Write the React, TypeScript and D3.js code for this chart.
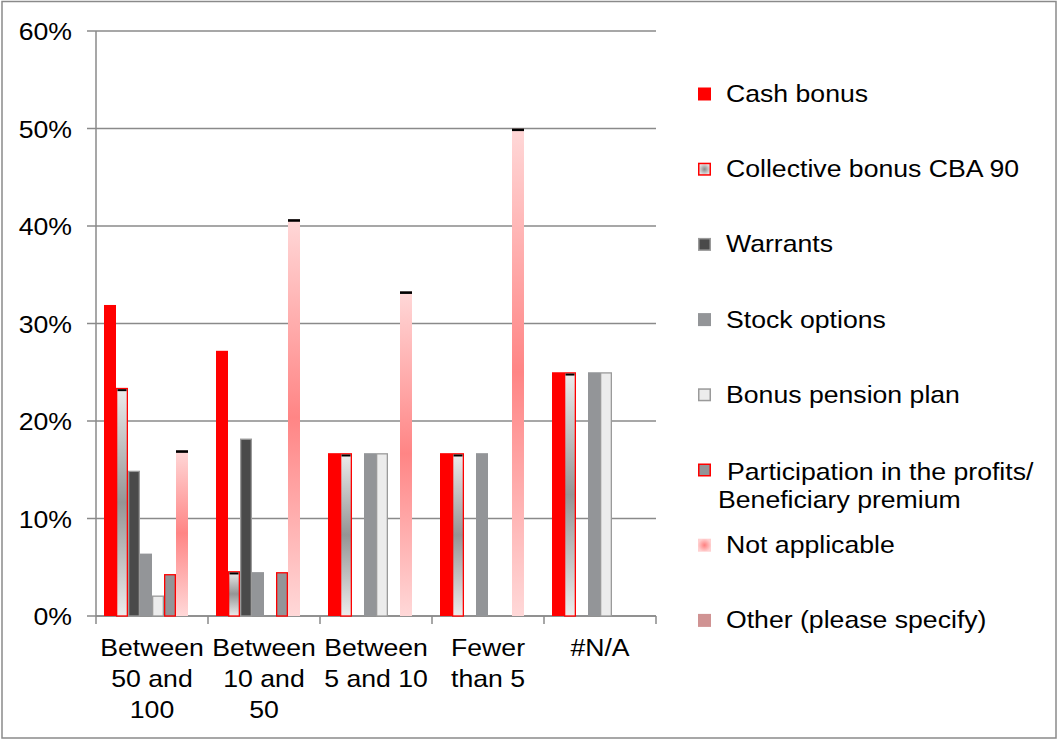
import React from "react";
import * as d3 from "d3";

const categoryLabels: string[][] = [
  ["Between", "50 and", "100"],
  ["Between", "10 and", "50"],
  ["Between", "5 and 10"],
  ["Fewer", "than 5"],
  ["#N/A"],
];
const categories = categoryLabels.map((l) => l.join(" "));

const seriesNames = [
  "Cash bonus",
  "Collective bonus CBA 90",
  "Warrants",
  "Stock options",
  "Bonus pension plan",
  "Participation in the profits/ Beneficiary premium",
  "Not applicable",
  "Other (please specify)",
];

const cashBonus = [31.9, 27.2, 16.7, 16.7, 25.0];
const collectiveBonus = [23.4, 4.6, 16.7, 16.7, 25.0];
const warrants = [14.9, 18.2, 0, 0, 0];
const stockOptions = [6.4, 4.5, 16.7, 16.7, 25.0];
const bonusPension = [2.1, 0, 16.7, 0, 25.0];
const participation = [4.3, 4.5, 0, 0, 0];
const notApplicable = [17.0, 40.7, 33.3, 50.0, 0];
const other = [0, 0, 0, 0, 0];

const seriesValues = [
  cashBonus,
  collectiveBonus,
  warrants,
  stockOptions,
  bonusPension,
  participation,
  notApplicable,
  other,
];

const yTicks = [0, 10, 20, 30, 40, 50, 60];

type Style = { fill: string; stroke?: string; sw?: number; cap?: boolean; legendFill?: string };
const styles: Style[] = [
  { fill: "#ff0000" },
  { fill: "url(#gGray)", stroke: "#ff0000", sw: 1.3, cap: true, legendFill: "url(#rGray)" },
  { fill: "#4a4a4a", stroke: "#9a9a9a", sw: 1.3 },
  { fill: "#939598" },
  { fill: "#ececec", stroke: "#9a9a9a", sw: 1.3 },
  { fill: "#939598", stroke: "#ff0000", sw: 1.3 },
  { fill: "url(#gPink)", cap: true, legendFill: "url(#rPink)" },
  { fill: "#d09393" },
];

const FONT = "'Liberation Sans', Arial, sans-serif";
const SX = 1.11;

export default function App() {
  const W = 1058, H = 740;
  const left = 96, right = 656, top = 31, bottom = 616;
  const x0 = d3.scaleBand<string>().domain(categories).range([left, right]).padding(0);
  const bw = x0.bandwidth();
  const x1 = d3
    .scaleBand<number>()
    .domain(d3.range(seriesNames.length))
    .range([bw * (8 / 112), bw * (104 / 112)])
    .padding(0);
  const y = d3.scaleLinear().domain([0, 60]).range([bottom, top]);

  const legendY = d3.range(8).map((i) => 94 + i * 75.2);

  const T = (x: number, yy: number, s: string, anchor: string = "start", key?: any) => (
    <text
      key={key}
      transform={`translate(${x},${yy}) scale(${SX},1)`}
      textAnchor={anchor}
      fontFamily={FONT}
      fontSize={24}
      fill="#000"
    >
      {s}
    </text>
  );

  return (
    <svg
      width={W}
      height={H}
      style={{ position: "absolute", left: 0, top: 0, background: "#fff" }}
    >
      <defs>
        <linearGradient id="gGray" x1="0" y1="0" x2="0" y2="1">
          <stop offset="0" stopColor="#ececec" />
          <stop offset="0.5" stopColor="#959595" />
          <stop offset="1" stopColor="#ececec" />
        </linearGradient>
        <linearGradient id="gPink" x1="0" y1="0" x2="0" y2="1">
          <stop offset="0" stopColor="#ffd8d8" />
          <stop offset="0.5" stopColor="#ff8585" />
          <stop offset="1" stopColor="#ffd8d8" />
        </linearGradient>
        <radialGradient id="rGray">
          <stop offset="0" stopColor="#8a8a8a" />
          <stop offset="1" stopColor="#e4e4e4" />
        </radialGradient>
        <radialGradient id="rPink">
          <stop offset="0" stopColor="#ff8080" />
          <stop offset="1" stopColor="#ffd0d0" />
        </radialGradient>
      </defs>
      <rect x={2} y={1.5} width={1054} height={736.5} fill="#fff" stroke="#8a8a8a" strokeWidth={1.5} />

      {/* gridlines */}
      {yTicks.map((t) => (
        <g key={t}>
          <line x1={left - 9} x2={right} y1={y(t)} y2={y(t)} stroke="#8a8a8a" strokeWidth={1.5} />
          {T(72, y(t) + 9, `${t}%`, "end")}
        </g>
      ))}
      <line x1={left} x2={left} y1={top} y2={bottom} stroke="#8a8a8a" strokeWidth={1.5} />
      <line x1={left} x2={right} y1={bottom} y2={bottom} stroke="#8a8a8a" strokeWidth={1.5} />
      {[...categories.map((c) => x0(c)!), right].map((xx, i) => (
        <line key={i} x1={xx} x2={xx} y1={bottom} y2={bottom + 8} stroke="#8a8a8a" strokeWidth={1.5} />
      ))}

      {/* bars */}
      {categories.map((c, ci) => (
        <g key={c} transform={`translate(${x0(c)},0)`}>
          {seriesValues.map((vals, si) => {
            const v = vals[ci];
            if (!v) return null;
            const st = styles[si];
            const bx = x1(si)!;
            const w = x1.bandwidth();
            const yt = y(v);
            const h = bottom - yt;
            const inset = st.stroke ? (st.sw || 1) / 2 : 0;
            return (
              <g key={si}>
                <rect
                  x={bx + inset}
                  y={yt + inset}
                  width={w - 2 * inset}
                  height={h - inset}
                  fill={st.fill}
                  stroke={st.stroke || "none"}
                  strokeWidth={st.sw || 0}
                />
                {st.cap && (
                  <rect
                    x={bx + (st.stroke ? 1.5 : 0)}
                    y={yt + (st.stroke ? 1.3 : 0)}
                    width={w - (st.stroke ? 3 : 0)}
                    height={st.stroke ? 2 : 2.6}
                    fill="#000"
                  />
                )}
              </g>
            );
          })}
        </g>
      ))}

      {/* category labels */}
      {categoryLabels.map((lines, ci) =>
        lines.map((ln, li) =>
          T(x0(categories[ci])! + bw / 2, 656 + li * 31, ln, "middle", `${ci}-${li}`)
        )
      )}

      {/* legend */}
      {seriesNames.map((name, i) => {
        const st = styles[i];
        const cy = legendY[i];
        const inset = st.stroke ? 0.75 : 0;
        return (
          <g key={name}>
            <rect
              x={698 + inset}
              y={cy - 6.5 + inset}
              width={13 - 2 * inset}
              height={13 - 2 * inset}
              fill={st.legendFill || st.fill}
              stroke={st.stroke || "none"}
              strokeWidth={st.stroke ? 1.5 : 0}
            />
            {i === 5 ? (
              <>
                {T(727, cy + 10, "Participation in the profits/")}
                {T(718, cy + 38, "Beneficiary premium")}
              </>
            ) : (
              T(726, cy + 8, name)
            )}
          </g>
        );
      })}
    </svg>
  );
}
